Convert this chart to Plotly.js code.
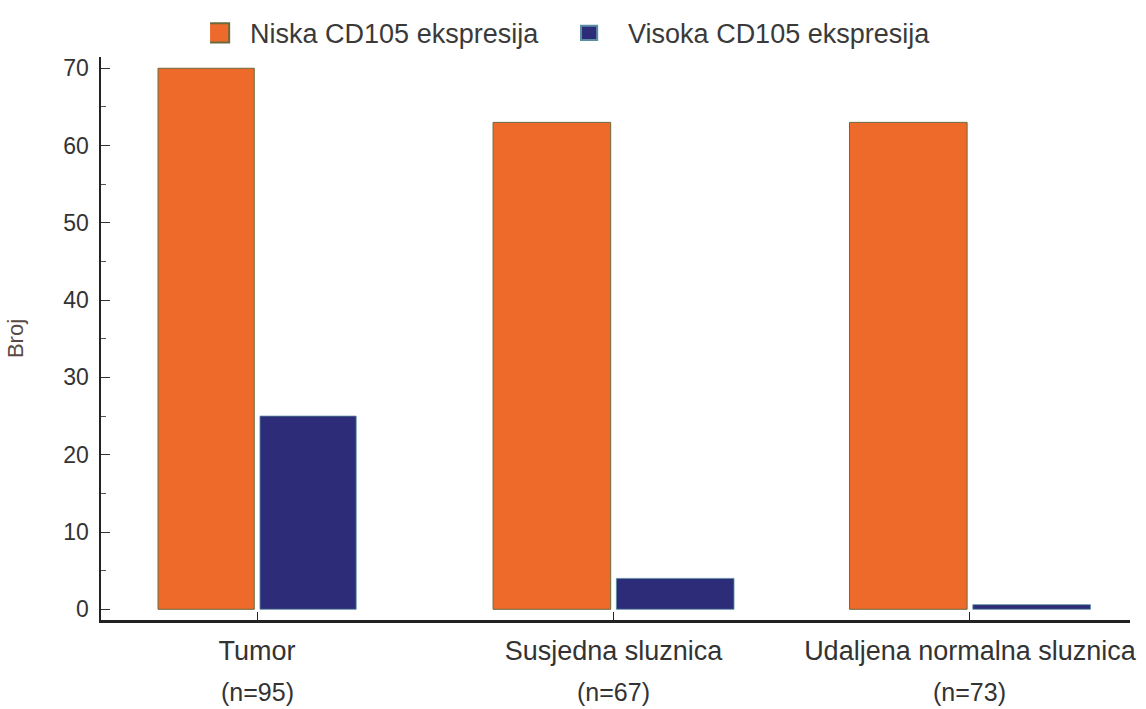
<!DOCTYPE html>
<html>
<head>
<meta charset="utf-8">
<script src="https://cdn.plot.ly/plotly-3.0.1.min.js"></script>
<style>html,body{margin:0;padding:0;background:#fff;}#chart{width:1146px;height:709px;}</style>
</head>
<body>
<div id="chart"></div>
<script>
// Data
const categories = ["Tumor", "Susjedna sluznica", "Udaljena normalna sluznica"];
const sampleSizes = ["(n=95)", "(n=67)", "(n=73)"];
const nizakValues = [70, 63, 63];
const visokValues = [25, 4, 0.6];
const seriesNames = ["Niska CD105 ekspresija", "Visoka CD105 ekspresija"];
const yTickVals = [0, 10, 20, 30, 40, 50, 60, 70];

const barWidths = [0.27, 0.33, 0.33];

const traces = [
  {
    type: "bar",
    name: seriesNames[0],
    x: categories,
    y: nizakValues,
    width: barWidths,
    offset: barWidths.map(w => -w - 0.008),
    marker: {color: "#EE6A2A", line: {color: "#6a6a3c", width: 1}},
    hoverinfo: "x+y"
  },
  {
    type: "bar",
    name: seriesNames[1],
    x: categories,
    y: visokValues,
    width: barWidths,
    offset: barWidths.map(() => 0.008),
    marker: {color: "#2D2C78", line: {color: "#5b8ea3", width: 0.8}},
    hoverinfo: "x+y"
  }
];

const annotations = categories.map((c, i) => ({
  x: c, xref: "x", y: -0.128, yref: "paper",
  text: sampleSizes[i], showarrow: false,
  xanchor: "center", yanchor: "middle",
  font: {family: "Liberation Sans, Arial, sans-serif", size: 25, color: "#333"}
}));

const layout = {
  width: 1146, height: 709,
  margin: {l: 101, r: 16, t: 57, b: 89, pad: 0, autoexpand: false},
  paper_bgcolor: "#fff", plot_bgcolor: "#fff",
  font: {family: "Liberation Sans, Arial, sans-serif", color: "#333"},
  showlegend: true,
  legend: {
    orientation: "h", x: 0.106, xanchor: "left",
    yref: "container", y: 0.953, yanchor: "middle",
    font: {size: 27, color: "#3a3a3a"},
    entrywidth: 333, entrywidthmode: "pixels",
    itemsizing: "constant"
  },
  xaxis: {
    type: "category",
    range: [-0.438, 2.449],
    showline: true, linecolor: "#222", linewidth: 2.5,
    ticks: "inside", ticklen: 8, tickcolor: "#222", tickwidth: 1,
    showgrid: false, zeroline: false,
    tickfont: {size: 27, color: "#333"},
    ticklabelstandoff: 5
  },
  yaxis: {
    range: [-1.385, 71.46],
    tickvals: yTickVals,
    showline: true, linecolor: "#222", linewidth: 2.5,
    ticks: "inside", ticklen: 9, tickcolor: "#333", tickwidth: 1,
    minor: {dtick: 5, ticks: "inside", ticklen: 5, tickcolor: "#555", tickwidth: 1, showgrid: false},
    showgrid: false, zeroline: false,
    tickfont: {size: 23, color: "#333"},
    ticklabelstandoff: 5,
    title: {text: "Broj", font: {size: 22, color: "#5a4a44"}, standoff: 34}
  },
  annotations: annotations
};

Plotly.newPlot("chart", traces, layout, {displayModeBar: false, staticPlot: true}).then(gd => {
  // reshape legend swatches to match the reference look
  const swatch = [{dx: -13.5, sx: 2.1, sy: 1.6}, {dx: -19, sx: 1.35, sy: 1.2}];
  gd.querySelectorAll(".legend .traces").forEach((t, i) => {
    const s = swatch[i];
    if (!s) return;
    t.querySelectorAll(".legendpoints path").forEach(p => {
      const prev = p.getAttribute("transform") || "";
      const m = prev.match(/translate\(\s*([-\d.]+)[ ,]+([-\d.]+)?/);
      const tx = m ? parseFloat(m[1]) : 0;
      const ty = m && m[2] ? parseFloat(m[2]) : 0;
      p.setAttribute("transform", `translate(${tx + s.dx},${ty}) scale(${s.sx},${s.sy})`);
      p.setAttribute("vector-effect", "non-scaling-stroke");
    });
  });
});
</script>
</body>
</html>
